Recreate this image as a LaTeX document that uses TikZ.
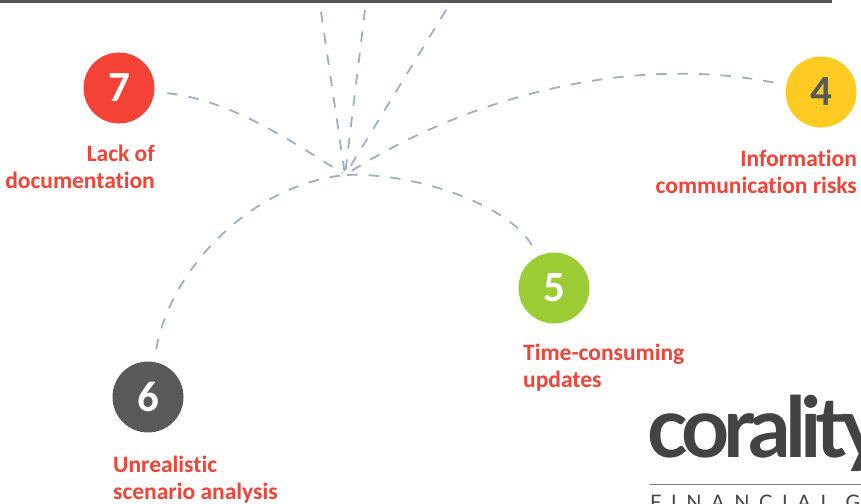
\documentclass[tikz,border=0pt]{standalone}
\usepackage{fontspec}
\setmainfont[Ligatures=NoCommon]{Carlito}
\newfontfamily\logofont{Lato}
\definecolor{conncol}{HTML}{9DB0C1}
\definecolor{redtxt}{HTML}{F44336}
\definecolor{darkg}{HTML}{58595B}
\definecolor{logog}{HTML}{434343}
\tikzset{
  conn/.style={draw=conncol,line width=1.8pt,dash pattern=on 10.5pt off 11pt},
  numnode/.style={circle,minimum size=71pt,inner sep=0pt,outer sep=13pt,font=\fontsize{43}{43}\selectfont\bfseries,text=white},
  lab/.style={inner sep=0pt,text=redtxt,font=\fontsize{23.5}{27}\selectfont\bfseries},
}
\begin{document}
\begin{tikzpicture}[x=1pt,y=-1pt]
\useasboundingbox (0,0) rectangle (861,503);
\clip (0,0) rectangle (861,503);
\fill[darkg] (0,0) rectangle (832,3);
\coordinate (hub) at (345,175);
\coordinate (top1) at (321,12);
\coordinate (top2) at (365,10);
\coordinate (top3) at (446,10);
\node[numnode,fill={rgb,255:red,244;green,67;blue,54}] (n7) at (119,88) {7};
\node[numnode,fill={rgb,255:red,255;green,202;blue,33},text=darkg] (n4) at (821,92) {4};
\node[numnode,fill={rgb,255:red,155;green,204;blue,52}] (n5) at (554,288) {5};
\node[numnode,fill=darkg] (n6) at (148,397) {6};
\node[lab,anchor=base east,align=right] (l7) at (155,188) {Lack of\\documentation};
\node[lab,anchor=base east,align=right] (l4) at (857,193) {Information\\communication risks};
\node[lab,anchor=base west,align=left] (l5) at (523,387) {Time-consuming\\updates};
\node[lab,anchor=base west,align=left] (l6) at (113,499) {Unrealistic\\scenario analysis};
\draw[conn,shorten >=3pt] (top1) -- (hub);
\draw[conn,shorten >=3pt] (top2) -- (hub);
\draw[conn,shorten >=3pt] (top3) -- (hub);
\draw[conn,shorten >=3pt] (n7) .. controls (230,100) and (290,140) .. (hub);
\draw[conn,shorten >=3pt] (n4) .. controls (640,56) and (480,90) .. (hub);
\draw[conn] (n5) .. controls (512,208) and (420,172) .. (hub);
\draw[conn] (n6) .. controls (170,270) and (250,185) .. (hub);
\node[inner sep=0pt,anchor=base west,text=logog,font=\logofont\bfseries\fontsize{84}{84}\selectfont] (logo) at (647,457) {\addfontfeature{LetterSpace=-7}corality};
\draw[draw=gray,line width=1pt] (650,484) -- (861,484);
\node[inner sep=0pt,anchor=base west,text=logog,font=\logofont\fontsize{20}{20}\selectfont] (fin) at (650,509) {\addfontfeature{LetterSpace=48}FINANCIAL G};
\end{tikzpicture}
\end{document}
